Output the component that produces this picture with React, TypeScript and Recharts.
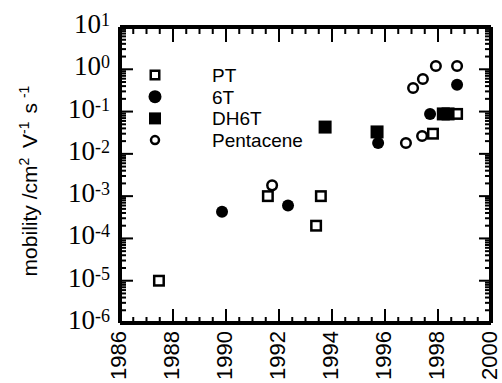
import React from 'react';
import { ScatterChart, Scatter, XAxis, YAxis, ReferenceLine } from 'recharts';

// axis labels
const yearLabels = [1986, 1988, 1990, 1992, 1994, 1996, 1998, 2000];

// PT
const ptYears = [1987.47, 1991.58, 1993.4, 1993.58, 1997.81, 1998.72];
const ptMobility = [1e-5, 1e-3, 2e-4, 1e-3, 0.03, 0.088];

// 6T
const t6Years = [1989.85, 1992.34, 1995.74, 1997.7, 1998.72];
const t6Mobility = [4.3e-4, 6e-4, 0.018, 0.088, 0.43];

// DH6T
const dh6tYears = [1993.74, 1995.7, 1998.2, 1998.38];
const dh6tMobility = [0.043, 0.033, 0.088, 0.088];

// Pentacene
const pentaceneYears = [1991.74, 1996.79, 1997.06, 1997.4, 1997.43, 1997.92, 1998.72];
const pentaceneMobility = [1.8e-3, 0.018, 0.36, 0.0265, 0.59, 1.2, 1.2];

const toPoints = (years: number[], mob: number[]) =>
  years.map((year, i) => ({ year, mobility: mob[i] }));

// tick positions: every half year, and 1..9 per decade
const xTicks: number[] = [];
for (let y = 1986; y <= 2000; y += 0.5) xTicks.push(y);
const yTicks: number[] = [];
for (let d = -6; d <= 0; d++) {
  for (let k = 1; k <= 9; k++) yTicks.push(k * Math.pow(10, d));
}
yTicks.push(10);

const isDecade = (v: number) => {
  const l = Math.log10(v);
  return Math.abs(l - Math.round(l)) < 1e-9;
};
const isLabelYear = (v: number) => yearLabels.includes(v);

const W = 502;
const H = 383;
const MARGIN = { top: 27, right: 11, left: 0, bottom: 0 };
const PLOT_RIGHT = W - MARGIN.right;
const PLOT_TOP = MARGIN.top;

const SANS = '"Liberation Sans", Arial, Helvetica, sans-serif';
const SERIF = '"Liberation Serif", "Times New Roman", serif';

const OpenSquare = ({ cx, cy, s = 12 }: any) => (
  <rect x={cx - (s - 2.5) / 2} y={cy - (s - 2.5) / 2} width={s - 2.5} height={s - 2.5}
    fill="#fff" stroke="#000" strokeWidth={2.5} />
);
const FilledSquare = ({ cx, cy, s = 13 }: any) => (
  <rect x={cx - s / 2} y={cy - s / 2} width={s} height={s} fill="#000" />
);
const FilledCircle = ({ cx, cy, r = 6 }: any) => <circle cx={cx} cy={cy} r={r} fill="#000" />;
const OpenCircle = ({ cx, cy, r = 4.8 }: any) => (
  <circle cx={cx} cy={cy} r={r} fill="#fff" stroke="#000" strokeWidth={2.5} />
);

const ptShape = (p: any) => <OpenSquare cx={p.cx} cy={p.cy} />;
const t6Shape = (p: any) => <FilledCircle cx={p.cx} cy={p.cy} />;
const dh6tShape = (p: any) => <FilledSquare cx={p.cx} cy={p.cy} />;
const pentaceneShape = (p: any) => <OpenCircle cx={p.cx} cy={p.cy} />;

// left axis: labels + inward ticks on both left and right sides
const LeftTick = ({ x, y, payload }: any) => {
  const v = payload.value;
  const major = isDecade(v);
  const exp = Math.round(Math.log10(v));
  const px = Number(x);
  const py = Number(y);
  const lw = major ? 13 : 6;
  const rw = major ? 12 : 6;
  return (
    <g>
      <rect x={px} y={py - 1} width={lw} height={2} fill="#000" />
      <rect x={PLOT_RIGHT - rw} y={py - 1} width={rw} height={2} fill="#000" />
      {major && (
        <text x={px - 10} y={py + 6} textAnchor="end" fontFamily={SERIF} fontSize={27} fill="#000">
          10<tspan dy={-7} fontSize={18}>{String(exp)}</tspan>
        </text>
      )}
    </g>
  );
};

// bottom axis: labels + inward ticks on both bottom and top sides
const BottomTick = ({ x, y, payload }: any) => {
  const v = payload.value;
  const major = isLabelYear(v);
  const px = Number(x);
  const py = Number(y);
  const bh = major ? 14 : 6;
  const th = major ? 15 : 7;
  return (
    <g>
      <rect x={px - 1} y={py - bh} width={2} height={bh} fill="#000" />
      <rect x={px - 1} y={PLOT_TOP} width={2} height={th} fill="#000" />
      {major && (
        <text transform={`translate(${px + 6},${py + 8}) rotate(-90)`} textAnchor="end"
          fontFamily={SANS} fontSize={22} fill="#000">
          {v}
        </text>
      )}
    </g>
  );
};

const YTitle = ({ viewBox }: any) => {
  const cy = viewBox.y + viewBox.height / 2 + 6;
  return (
    <text transform={`translate(37,${cy}) rotate(-90)`} textAnchor="middle"
      fontFamily={SANS} fontSize={21} fill="#000">
      mobility /cm<tspan dy={-8} fontSize={14}>2</tspan>
      <tspan dy={8} dx={4}> V</tspan>
      <tspan dy={-8} fontSize={14}>-1</tspan>
      <tspan dy={8} dx={2}> s</tspan>
      <tspan dy={-8} dx={5} fontSize={14}>-1</tspan>
    </text>
  );
};

const legendNames = ['PT', '6T', 'DH6T', 'Pentacene'];

const LegendIcon = ({ i }: { i: number }) => {
  if (i === 0) return <OpenSquare cx={15} cy={0} s={11} />;
  if (i === 1) return <FilledCircle cx={15} cy={0} r={6.5} />;
  if (i === 2) return <FilledSquare cx={15} cy={0} s={12} />;
  return <OpenCircle cx={15} cy={0} r={4} />;
};

const LegendBox = () => (
  <svg width={200} height={90} style={{ position: 'absolute', left: 140, top: 63, pointerEvents: 'none' }}>
    {legendNames.map((name, i) => (
      <g key={name} transform={`translate(0,${12 + i * 21.7})`}>
        <LegendIcon i={i} />
        <text x={72} y={7} fontFamily={SANS} fontSize={19} fill="#000">{name}</text>
      </g>
    ))}
  </svg>
);

const frame = { stroke: '#000', strokeWidth: 4 };

export default function App() {
  return (
    <div style={{ position: 'absolute', left: 0, top: 0, width: W, height: H }}>
      <ScatterChart width={W} height={H} margin={MARGIN}>
        <XAxis xAxisId="b" dataKey="year" type="number" domain={[1986, 2000]} allowDataOverflow
          ticks={xTicks} interval={0} height={60} tickSize={0} tickMargin={0} tickLine={false}
          stroke="#000" axisLine={frame} tick={<BottomTick />} />
        <YAxis yAxisId="l" dataKey="mobility" type="number" scale="log" domain={[1e-6, 10]} allowDataOverflow
          ticks={yTicks} interval={0} width={120} tickSize={0} tickMargin={0} tickLine={false}
          stroke="#000" axisLine={frame} tick={<LeftTick />} label={{ content: <YTitle /> }} />
        <ReferenceLine xAxisId="b" yAxisId="l" y={10} stroke="#000" strokeWidth={4} />
        <ReferenceLine xAxisId="b" yAxisId="l" x={2000} stroke="#000" strokeWidth={4} />
        <Scatter name="PT" xAxisId="b" yAxisId="l" data={toPoints(ptYears, ptMobility)}
          fill="#000" shape={ptShape} isAnimationActive={false} />
        <Scatter name="6T" xAxisId="b" yAxisId="l" data={toPoints(t6Years, t6Mobility)}
          fill="#000" shape={t6Shape} isAnimationActive={false} />
        <Scatter name="DH6T" xAxisId="b" yAxisId="l" data={toPoints(dh6tYears, dh6tMobility)}
          fill="#000" shape={dh6tShape} isAnimationActive={false} />
        <Scatter name="Pentacene" xAxisId="b" yAxisId="l" data={toPoints(pentaceneYears, pentaceneMobility)}
          fill="#000" shape={pentaceneShape} isAnimationActive={false} />
      </ScatterChart>
      <LegendBox />
    </div>
  );
}
